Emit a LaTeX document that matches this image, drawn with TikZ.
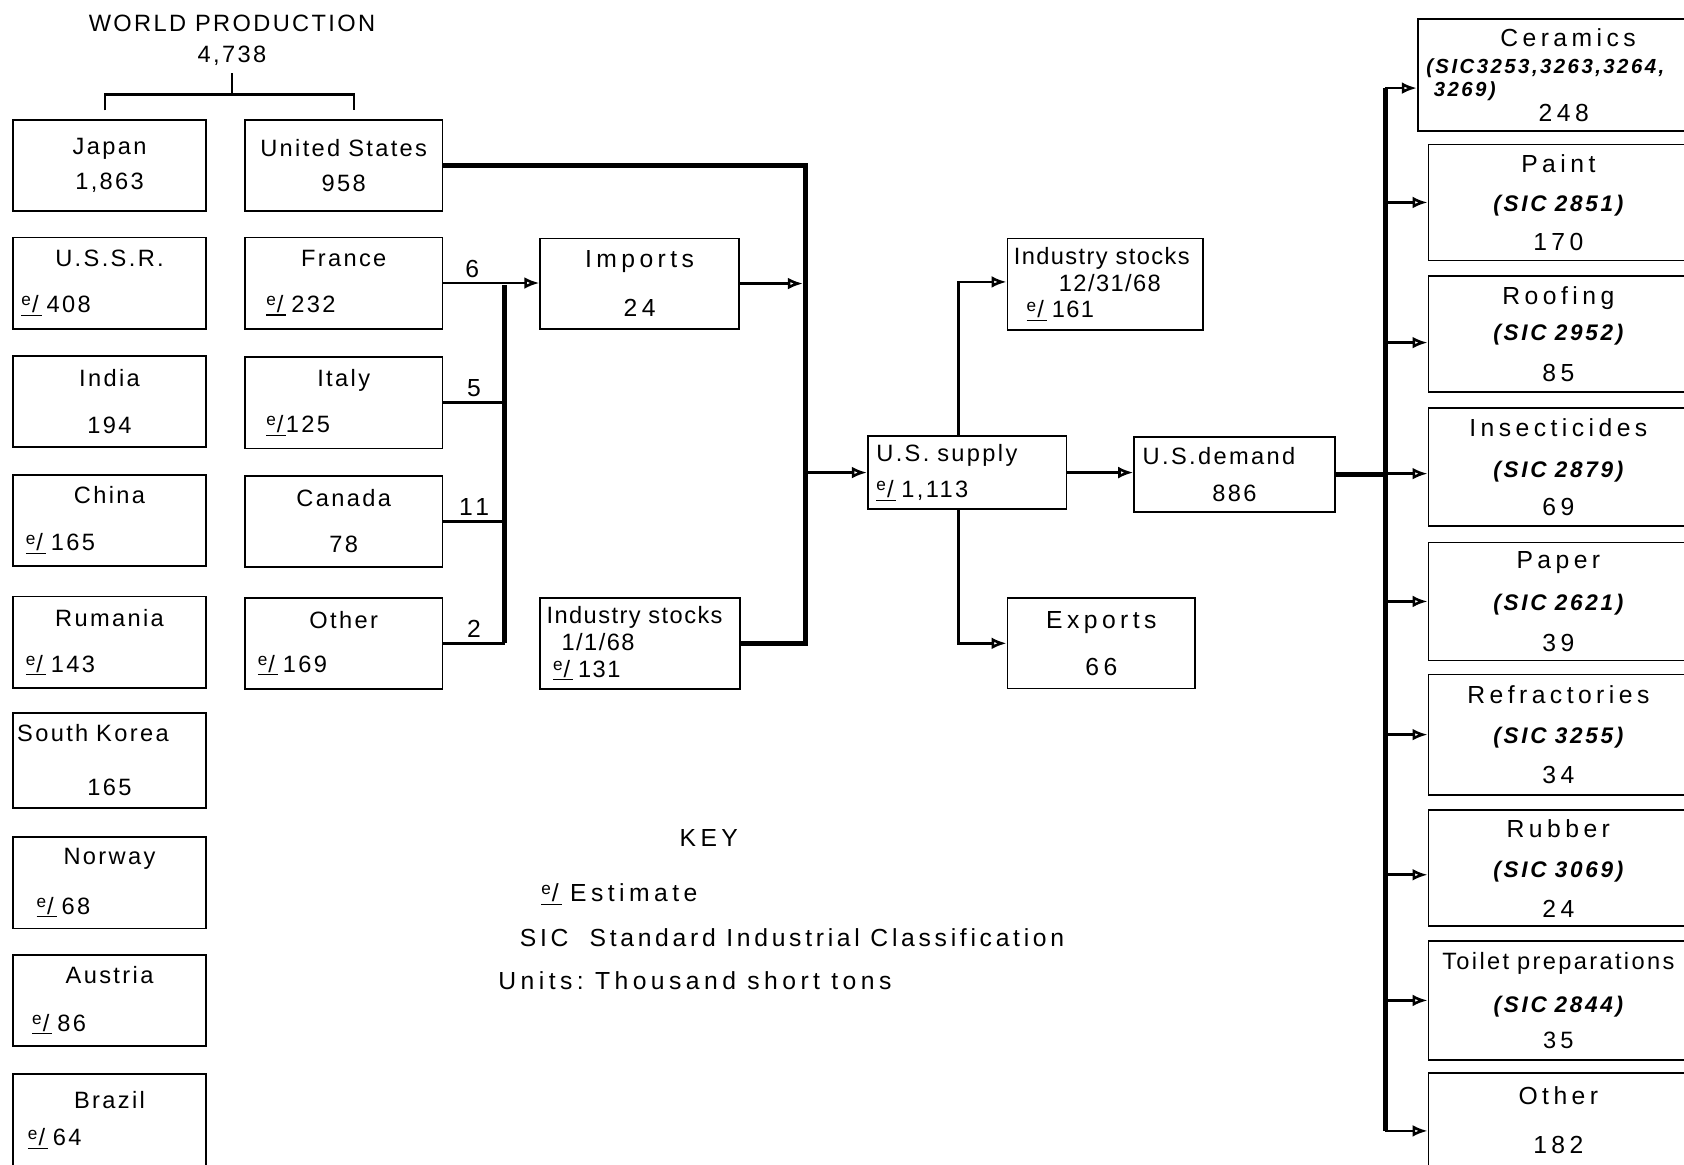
\documentclass[tikz,border=0pt]{standalone}
\usepackage{fontspec}
\setmainfont{Liberation Sans}[LetterSpace=10]
\newfontfamily\tightfont{Liberation Sans}[LetterSpace=6]
\newfontfamily\widefont{Liberation Sans}[LetterSpace=18]
\newfontfamily\sicfont{Liberation Sans}[LetterSpace=12]
\usetikzlibrary{arrows.meta, positioning}
\newcommand{\estm}{\rlap{\rule[-0.25ex]{0.85em}{0.6pt}}\raisebox{0.55ex}{\fontsize{8}{8}\selectfont e}\kern0.5pt/}
\newcommand{\lln}[1]{\makebox[\linewidth][l]{#1}}
\newcommand{\sic}[1]{{\sicfont\fontsize{10.5}{13.5}\selectfont\bfseries\itshape #1}}

\begin{document}
\begin{tikzpicture}[x=0.5pt, y=-0.5pt,
    every node/.style={font=\fontsize{11}{13}\selectfont},
    box/.style={draw, line width=0.8pt, inner xsep=4pt, inner ysep=1pt, align=center},
    lbox/.style={box, minimum width=90pt, text width=82pt, minimum height=42.5pt},
    mbox/.style={box, minimum width=92pt, text width=84pt, minimum height=42.5pt},
    sbox/.style={box, font=\tightfont\fontsize{11}{12.5}\selectfont, inner xsep=3pt, minimum height=42.5pt},
    wbox/.style={box, font=\widefont\fontsize{11.5}{13.5}\selectfont},
    rbox/.style={wbox, minimum width=121pt, text width=113pt, minimum height=54pt},
    flow/.style={line width=1.2pt},
    bus/.style={line width=2.3pt},
    arr/.style={flow, -{Latex[open, length=7pt, width=5.5pt]}},
    lab/.style={font=\widefont\fontsize{11.5}{13}\selectfont, inner sep=2pt},
    keytext/.style={font=\widefont\fontsize{11.5}{13}\selectfont, anchor=west},
  ]
  \useasboundingbox (0,0) rectangle (1568,1084);

  % world production
  \node (world) at (216,22) {WORLD PRODUCTION};
  \node (worldval) at (216,52) {4,738};

  % producing countries
  \node[lbox] (japan) at (102,154) {Japan\\[3.5pt]1,863};
  \node[lbox] (ussr) at (102,263.5) {U.S.S.R.\\[8.5pt]\lln{\estm\ 408}};
  \node[lbox] (india) at (102,374) {India\\[9pt]194};
  \node[lbox] (china) at (102,484.5) {China\\[9pt]\lln{\hspace{2pt}\estm\ 165}};
  \node[lbox] (rumania) at (102,598) {Rumania\\[8.5pt]\lln{\hspace{2pt}\estm\ 143}};
  \node[lbox, minimum height=44pt] (skorea) at (102,708) {\lln{\hspace{-2pt}South Korea}\\[12pt]165};
  \node[lbox] (norway) at (102,822) {Norway\\[10pt]\lln{\hspace{7pt}\estm\ 68}};
  \node[lbox] (austria) at (102,931.5) {Austria\\[9pt]\lln{\hspace{5pt}\estm\ 86}};
  \node[lbox, minimum height=43pt] (brazil) at (102,1043) {Brazil\\[4.5pt]\lln{\hspace{3pt}\estm\ 64}};

  \node[mbox] (us) at (320,154) {United States\\[3.5pt]958};
  \node[mbox] (france) at (320,263.5) {France\\[8.5pt]\lln{\hspace{6pt}\estm\ 232}};
  \node[mbox] (italy) at (320,375) {Italy\\[8.5pt]\lln{\hspace{6pt}\estm125}};
  \node[mbox] (canada) at (320,485.5) {Canada\\[8.5pt]78};
  \node[mbox] (otherc) at (320,599) {Other\\[7.5pt]\lln{\hspace{2pt}\estm\ 169}};

  % bracket under world total
  \coordinate (brk) at (216,88);
  \draw[line width=1pt] (worldval.south) -- (brk);
  \draw[line width=1pt] ([shift={(-2pt,4pt)}]japan.north) |- (brk) -| ([shift={(5pt,4pt)}]us.north);

  % imports and opening stocks
  \node[wbox, minimum width=92.5pt, minimum height=42pt] (imports) at (595.5,264) {Imports\\[9pt]24};
  \node[sbox, minimum width=93pt, text width=87pt] (stocksa) at (596,599)
    {\lln{Industry stocks}\\\lln{\hspace{7pt}1/1/68}\\\lln{\hspace{3pt}\estm\ 131}};

  % supply, demand and their outlets
  \node[box, minimum width=92.5pt, text width=84.5pt, minimum height=34pt] (supply) at (900.5,440)
    {\lln{U.S. supply}\\[4pt]\lln{\estm\ 1,113}};
  \node[box, minimum width=93.5pt, text width=85.5pt, minimum height=35pt] (demand) at (1149.5,442)
    {\lln{U.S.demand}\\[4pt]886};
  \node[sbox, minimum width=91pt, text width=85pt] (stocksb) at (1029,264.5)
    {\lln{Industry stocks}\\\lln{\hspace{21pt}12/31/68}\\\lln{\hspace{6pt}\estm\ 161}};
  \node[wbox, minimum width=87.5pt, minimum height=42pt] (exports) at (1025.5,599) {Exports\\[8.5pt]66};

  % end uses
  \node[wbox, minimum width=126pt, text width=118pt, minimum height=52pt] (ceram) at (1446,70)
    {\hspace{14pt}Ceramics\\[-1pt]\lln{{\sicfont\fontsize{9.5}{11}\selectfont\bfseries\itshape (SIC3253,3263,3264,}}\\[-2.5pt]\lln{\hspace{3.5pt}{\sicfont\fontsize{9.5}{11}\selectfont\bfseries\itshape 3269)}}\\[-2pt]\hspace{10pt}248};
  \node[rbox] (paint) at (1451,188.5) {Paint\\[5pt]\sic{(SIC 2851)}\\[4.5pt]170};
  \node[rbox] (roofing) at (1451,311) {Roofing\\[3.5pt]\sic{(SIC 2952)}\\[5.5pt]85};
  \node[rbox, minimum height=55pt] (insect) at (1451,435) {Insecticides\\[5.5pt]\sic{(SIC 2879)}\\[4.5pt]69};
  \node[rbox, minimum height=55pt] (paper) at (1451,560) {Paper\\[6pt]\sic{(SIC 2621)}\\[5.5pt]39};
  \node[rbox, minimum height=56pt] (refract) at (1451,684) {Refractories\\[5.5pt]\sic{(SIC 3255)}\\[5pt]34};
  \node[rbox] (rubber) at (1451,808.5) {Rubber\\[5.5pt]\sic{(SIC 3069)}\\[5pt]24};
  \node[rbox, minimum height=55.5pt, font=\fontsize{11}{13.5}\selectfont] (toilet) at (1451,931.5)
    {Toilet preparations\\[6.5pt]\sic{(SIC 2844)}\\[3pt]{\widefont 35}};
  \node[rbox, minimum height=44pt] (otheru) at (1451,1043) {Other\\[9pt]182};

  % key
  \node[keytext, anchor=center] (key) at (660,780) {KEY};
  \node[keytext] (keyest) at (497,833) {\estm\ Estimate};
  \node[keytext, font=\widefont\fontsize{11.5}{13}\selectfont\addfontfeature{LetterSpace=15}] (keysic) at (477,873) {SIC\ \ Standard Industrial Classification};
  \node[keytext] (keyunit) at (457,913) {Units:\ Thousand\ short\ tons};

  % country imports into collector
  \coordinate (col) at (470,0);
  \draw[arr] (france.east) -- (france.east -| imports.west) node[lab, pos=0.3, above] (qfr) {6};
  \draw[flow] (italy.east) -- (italy.east -| col) node[lab, midway, above] (qit) {5};
  \draw[flow] (canada.east) -- (canada.east -| col) node[lab, midway, above] (qca) {11};
  \draw[flow] (otherc.east) -- (otherc.east -| col) node[lab, midway, above] (qot) {2};
  \draw[bus] (otherc.east -| col) -- ([yshift=-1pt]france.east -| col);

  % sources into U.S. supply
  \coordinate (bus1) at (750,0);
  \draw[bus] (us.east) -| (stocksa.east -| bus1) -- (stocksa.east);
  \draw[arr, shorten >=1.2pt] (imports.east) -- (imports.east -| bus1);
  \draw[arr] (supply.west -| bus1) -- (supply.west);
  \draw[arr] (supply.east) -- (supply.east -| demand.west);
  \draw[arr] ([xshift=-4pt]supply.north) |- ([yshift=1pt]stocksb.west);
  \draw[arr] ([xshift=-4pt]supply.south) |- (exports.west);

  % demand split by end use
  \coordinate (bus2) at (1290,0);
  \draw[bus] (demand.east) -- (demand.east -| bus2);
  \draw[bus] ([yshift=-6pt]ceram.west -| bus2) -- ([yshift=-5pt]otheru.west -| bus2);
  \draw[arr] ([yshift=-6pt]ceram.west -| bus2) -- ([yshift=-6pt]ceram.west);
  \draw[arr] (paint.west -| bus2) -- (paint.west);
  \draw[arr] ([yshift=-4pt]roofing.west -| bus2) -- ([yshift=-4pt]roofing.west);
  \draw[arr] ([yshift=-3pt]insect.west -| bus2) -- ([yshift=-3pt]insect.west);
  \draw[arr] (paper.west -| bus2) -- (paper.west);
  \draw[arr] (refract.west -| bus2) -- (refract.west);
  \draw[arr] ([yshift=-3pt]rubber.west -| bus2) -- ([yshift=-3pt]rubber.west);
  \draw[arr] (toilet.west -| bus2) -- (toilet.west);
  \draw[arr] ([yshift=-5pt]otheru.west -| bus2) -- ([yshift=-5pt]otheru.west);
\end{tikzpicture}
\end{document}
